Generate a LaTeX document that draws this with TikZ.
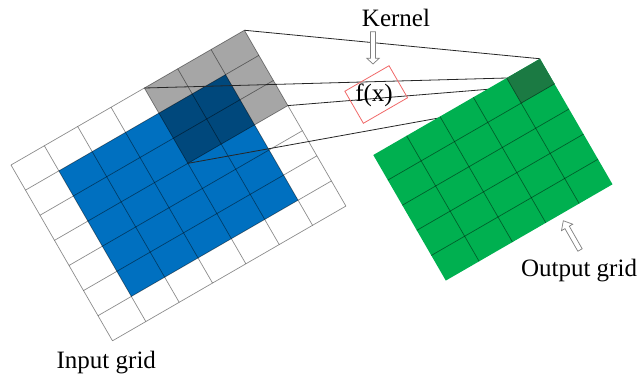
\documentclass[tikz,border=0pt]{standalone}
\usepackage{fontspec}
\setmainfont{Liberation Serif}
\definecolor{blueC}{HTML}{0070C0}
\definecolor{greenC}{HTML}{00B050}
\definecolor{dgreenC}{HTML}{1B7A43}
\definecolor{redC}{HTML}{F06868}
\definecolor{arrC}{HTML}{7F7F7F}
\begin{document}
\begin{tikzpicture}[x=1pt,y=1pt,
  gridline/.style={draw=black,draw opacity=0.45,line width=0.7pt},
  link/.style={draw=black!85,line width=0.8pt},
  lbl/.style={font=\fontsize{25}{28}\selectfont,inner sep=0pt,anchor=base},
  hollow/.style={draw=arrC,fill=white,line width=0.7pt,line join=miter}]
\def\cw{38.5}
\def\ch{29}
\useasboundingbox (0,0) rectangle (639,-376);
% ---- input grid ----
\begin{scope}[shift={(11,-165)},rotate=30]
  \fill[blueC] ({1*\cw},{-1*\ch}) rectangle ({6*\cw},{-6*\ch});
  \fill[black,fill opacity=0.35] ({4*\cw},0) rectangle ({7*\cw},{-3*\ch});
  \foreach \i in {0,...,7}{
    \draw[gridline] ({\i*\cw},0) -- ({\i*\cw},{-7*\ch});
    \draw[gridline] (0,{-\i*\ch}) -- ({7*\cw},{-\i*\ch});
  }
  \coordinate (kt) at ({7*\cw},0);
  \coordinate (kl) at ({4*\cw},0);
  \coordinate (kr) at ({7*\cw},{-3*\ch});
  \coordinate (kb) at ({4*\cw},{-3*\ch});
\end{scope}
% ---- output grid coordinates ----
\begin{scope}[shift={(373.3,-155)},rotate=30]
  \coordinate (ot) at ({5*\cw},0);
  \coordinate (dl) at ({4*\cw},0);
  \coordinate (dr) at ({5*\cw},{-1*\ch});
  \coordinate (db) at ({4*\cw},{-1*\ch});
\end{scope}
% ---- connectors ----
\draw[link] (kt) -- (ot);
\draw[link] (kl) -- (dl);
\draw[link] (kr) -- (dr);
\draw[link] (kb) -- (db);
% ---- kernel function box ----
\node (fxbox) [draw=redC,line width=0.8pt,rotate=30,minimum width=51pt,minimum height=37pt,inner sep=0pt] at (376.2,-94.5) {};
\node (fx) [lbl] at (374,-101.7) {f(x)};
% ---- output grid ----
\begin{scope}[shift={(373.3,-155)},rotate=30]
  \fill[greenC] (0,0) rectangle ({5*\cw},{-5*\ch});
  \fill[dgreenC] ({4*\cw},0) rectangle ({5*\cw},{-1*\ch});
  \foreach \i in {1,...,4}{
    \draw[gridline] ({\i*\cw},0) -- ({\i*\cw},{-5*\ch});
    \draw[gridline] (0,{-\i*\ch}) -- ({5*\cw},{-\i*\ch});
  }
\end{scope}
% ---- labels ----
\node (kernel) [lbl] at (396,-26) {Kernel};
\node (outlbl) [lbl] at (579,-276.7) {Output grid};
\node (inlbl) [lbl] at (106.3,-368.3) {Input grid};
% ---- hollow arrows ----
\begin{scope}[shift={(373,-31.7)},rotate=-90]
  \path[hollow] (0,-2.5) -- (26.5,-2.5) -- (26.5,-6.3) -- (32.3,0) -- (26.5,6.3) -- (26.5,2.5) -- (0,2.5) -- cycle;
\end{scope}
\begin{scope}[shift={(580,-250)},rotate=119.7]
  \path[hollow] (0,-2.5) -- (26,-2.5) -- (26,-6.5) -- (33.7,0) -- (26,6.5) -- (26,2.5) -- (0,2.5) -- cycle;
\end{scope}
\end{tikzpicture}
\end{document}
